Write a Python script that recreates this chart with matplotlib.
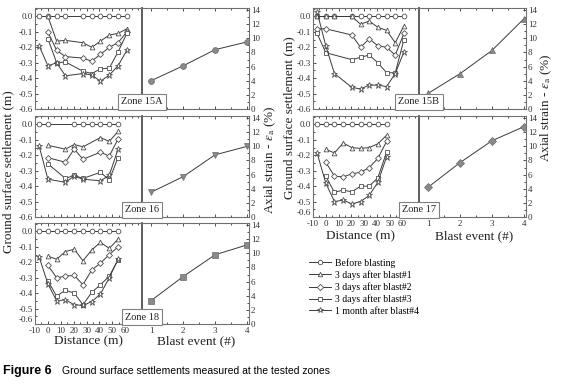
import numpy as np
import matplotlib.pyplot as plt
from matplotlib.lines import Line2D
from matplotlib.ticker import MultipleLocator

plt.rcParams["font.family"] = ["Liberation Serif", "DejaVu Serif"]
plt.rcParams["mathtext.fontset"] = "stix"
plt.rcParams["axes.unicode_minus"] = False

W, H = 564, 385

SERIES_LABELS = [
    "Before blasting",
    "3 days after blast#1",
    "3 days after blast#2",
    "3 days after blast#3",
    "1 month after blast#4",
]
SERIES_MARKERS = ["o", "^", "D", "s", "*"]
BLAST_EVENTS = [1, 2, 3, 4]

# zone 15A (distance in m, settlement in m, None = not measured)
Z15A_X = [-6.8, 0, 6.8, 13.6, 27.2, 34.0, 40.8, 47.6, 54.4, 61.2]
Z15A_BEFORE = [0, 0, 0, 0, 0, 0, 0, 0, 0, 0]
Z15A_B1 = [None, 0.0, -0.16, -0.155, -0.17, -0.20, -0.16, -0.12, -0.11, -0.08]
Z15A_B2 = [None, -0.10, -0.22, -0.26, -0.27, -0.29, -0.245, -0.20, -0.17, -0.10]
Z15A_B3 = [None, -0.145, -0.30, -0.295, -0.355, -0.37, -0.34, -0.335, -0.23, -0.11]
Z15A_B4 = [-0.19, -0.32, -0.30, -0.385, -0.37, -0.38, -0.42, -0.38, -0.32, -0.22]
Z15A_STRAIN = [4.0, 6.1, 8.4, 9.5]

# zone 16
Z16_X = [-6.8, 0, 13.6, 20.4, 27.2, 34.0, 40.8, 47.6, 54.4]
Z16_BEFORE = [0, 0, None, 0, 0, 0, 0, 0, 0]
Z16_B1 = [None, -0.135, -0.16, -0.13, -0.145, None, -0.085, -0.11, -0.045]
Z16_B2 = [None, -0.215, -0.245, -0.16, -0.225, None, -0.18, -0.205, -0.095]
Z16_B3 = [None, -0.255, -0.35, -0.33, -0.35, None, -0.31, -0.36, -0.215]
Z16_B4 = [-0.14, -0.355, -0.375, -0.335, -0.355, None, -0.365, -0.33, -0.16]
Z16_STRAIN = [3.5, 5.7, 8.8, 10.0]

# zone 18
Z18_X = [-6.8, 0, 6.8, 13.6, 20.4, 27.2, 34.0, 40.8, 47.6, 54.4]
Z18_BEFORE = [0, 0, 0, 0, 0, 0, 0, 0, 0, 0]
Z18_B1 = [None, -0.16, -0.18, -0.13, -0.115, -0.19, -0.12, -0.07, -0.11, -0.05]
Z18_B2 = [None, -0.22, -0.30, -0.29, -0.285, -0.345, -0.25, -0.205, -0.15, -0.10]
Z18_B3 = [None, -0.32, -0.42, -0.38, -0.40, -0.475, -0.395, -0.345, -0.29, -0.185]
Z18_B4 = [-0.165, -0.34, -0.45, -0.443, -0.475, -0.48, -0.455, -0.405, -0.30, -0.18]
Z18_STRAIN = [3.3, 6.7, 9.8, 11.2]

# zone 15B
Z15B_X = [-6.8, 0, 6.8, 20.4, 27.2, 34.0, 40.8, 47.6, 54.4, 61.2]
Z15B_BEFORE = [0, 0, 0, 0, 0, 0, 0, 0, 0, 0]
Z15B_B1 = [0.0, 0.0, 0.0, 0.0, -0.05, -0.03, -0.07, -0.09, -0.17, -0.06]
Z15B_B2 = [-0.08, -0.08, None, -0.12, -0.20, -0.145, -0.19, -0.20, -0.25, -0.11]
Z15B_B3 = [-0.11, -0.235, None, -0.28, -0.265, -0.25, -0.30, -0.365, -0.365, -0.15]
Z15B_B4 = [0.03, -0.19, -0.37, -0.46, -0.47, -0.445, -0.445, -0.455, -0.37, -0.23]
Z15B_STRAIN = [2.2, 5.0, 8.3, 12.8]

# zone 17
Z17_X = [-6.8, 0, 6.8, 13.6, 20.4, 27.2, 34.0, 40.8, 47.6]
Z17_BEFORE = [0, 0, 0, 0, 0, 0, 0, 0, 0]
Z17_B1 = [None, -0.16, -0.185, -0.12, -0.15, -0.155, -0.15, -0.125, -0.07]
Z17_B2 = [None, -0.245, -0.335, -0.34, -0.32, -0.31, -0.28, -0.22, -0.11]
Z17_B3 = [None, -0.335, -0.44, -0.425, -0.437, -0.40, -0.40, -0.345, -0.18]
Z17_B4 = [-0.185, -0.38, -0.50, -0.49, -0.515, -0.50, -0.46, -0.375, -0.21]
Z17_STRAIN = [4.2, 7.7, 10.8, 12.8]

LINE = "#3a3a3a"
EDGE = "#505050"
SPINE = "#707070"
FILL = "#8a8a8a"


def box(x0, x1, top, bottom):
    return [x0 / W, 1 - bottom / H, (x1 - x0) / W, (bottom - top) / H]


def style_ticks(ax):
    ax.tick_params(
        which="both",
        direction="in",
        labelsize=6.5,
        colors="#333333",
        pad=1.5,
        width=0.6,
    )
    ax.tick_params(which="major", length=2.5)
    ax.tick_params(which="minor", length=1.5)
    for s in ax.spines.values():
        s.set_color(SPINE)
        s.set_linewidth(0.8)


def draw_zone(fig, cols, rows, x, series, strain, marker, name, show_x):

    x0, xd, x1 = cols
    top, bottom = rows

    ax_d = fig.add_axes(box(x0, xd, top, bottom))
    ax_b = fig.add_axes(box(xd, x1, top, bottom))

    x = np.array(x, dtype=float)

    for ys, mk in zip(series, SERIES_MARKERS):
        ys = np.array(ys, dtype=float)
        ok = ~np.isnan(ys)
        ax_d.plot(
            x[ok],
            ys[ok],
            marker=mk,
            ms=4.6 if mk == "*" else (3.0 if mk == "D" else 3.4),
            mfc="white",
            mec=EDGE,
            mew=0.6,
            color=LINE,
            lw=0.7,
        )

    ax_d.set_xlim(-10, 73)
    ax_d.set_ylim(-0.6, 0.055)
    ax_d.set_xticks([-10, 0, 10, 20, 30, 40, 50, 60])
    ax_d.xaxis.set_minor_locator(MultipleLocator(5))
    ax_d.set_yticks(np.arange(-0.6, 0.01, 0.1))
    ax_d.set_yticklabels(["-0.6", "-0.5", "-0.4", "-0.3", "-0.2", "-0.1", "0.0"])
    ax_d.yaxis.set_minor_locator(MultipleLocator(0.05))
    style_ticks(ax_d)
    ax_d.tick_params(which="both", top=True, right=False, labelbottom=show_x)
    ax_d.tick_params(axis="x", pad=2.5)
    ax_d.spines["right"].set_color("#505050")
    ax_d.spines["right"].set_linewidth(1.3)
    if show_x:
        # lift the lowest settlement label clear of the distance labels
        ax_d.get_yticklabels()[0].set_va("bottom")

    ax_b.plot(
        BLAST_EVENTS,
        strain,
        marker=marker,
        ms=4.2 if marker != "D" else 3.6,
        mfc=FILL,
        mec="#6a6a6a",
        mew=0.5,
        color=LINE,
        lw=0.7,
    )
    ax_b.set_xlim(0.72, 4.06)
    ax_b.set_ylim(0, 14.3)
    ax_b.set_xticks(BLAST_EVENTS)
    ax_b.set_yticks(range(0, 15, 2))
    ax_b.yaxis.set_minor_locator(MultipleLocator(1))
    ax_b.xaxis.set_minor_locator(MultipleLocator(0.5))
    ax_b.yaxis.tick_right()
    style_ticks(ax_b)
    ax_b.tick_params(which="both", top=True, left=False, labelbottom=show_x)
    ax_b.tick_params(axis="x", pad=2.5)
    ax_b.spines["left"].set_visible(False)
    ax_b.patch.set_alpha(0)

    fig.text(
        xd / W,
        1 - (bottom - 7) / H,
        name,
        ha="center",
        va="center",
        fontsize=7.5,
        color="#222222",
        bbox=dict(boxstyle="square,pad=0.3", fc="white", ec="#808080", lw=0.8),
        zorder=10,
    )


fig = plt.figure(figsize=(W / 100, H / 100), dpi=100)

left_cols = (35, 142, 249)
right_cols = (313, 419, 526)

draw_zone(fig, left_cols, (8, 109), Z15A_X,
          [Z15A_BEFORE, Z15A_B1, Z15A_B2, Z15A_B3, Z15A_B4],
          Z15A_STRAIN, "o", "Zone 15A", False)
draw_zone(fig, left_cols, (116, 217), Z16_X,
          [Z16_BEFORE, Z16_B1, Z16_B2, Z16_B3, Z16_B4],
          Z16_STRAIN, "v", "Zone 16", False)
draw_zone(fig, left_cols, (223, 324), Z18_X,
          [Z18_BEFORE, Z18_B1, Z18_B2, Z18_B3, Z18_B4],
          Z18_STRAIN, "s", "Zone 18", True)
draw_zone(fig, right_cols, (8, 109), Z15B_X,
          [Z15B_BEFORE, Z15B_B1, Z15B_B2, Z15B_B3, Z15B_B4],
          Z15B_STRAIN, "^", "Zone 15B", False)
draw_zone(fig, right_cols, (116, 217), Z17_X,
          [Z17_BEFORE, Z17_B1, Z17_B2, Z17_B3, Z17_B4],
          Z17_STRAIN, "D", "Zone 17", True)

label_kw = dict(fontsize=9.5, color="#222222", ha="center", va="center")
strain_label = "Axial strain - $\\varepsilon_{\\mathrm{a}}$ (%)"

fig.text(8 / W, 1 - 172 / H, "Ground surface settlement (m)", rotation=90, **label_kw)
fig.text(270 / W, 1 - 160 / H, strain_label, rotation=90, **label_kw)
fig.text(88 / W, 1 - 341 / H, "Distance (m)", **label_kw)
fig.text(196 / W, 1 - 341 / H, "Blast event (#)", **label_kw)

fig.text(289 / W, 1 - 118 / H, "Ground surface settlement (m)", rotation=90, **label_kw)
fig.text(546 / W, 1 - 108 / H, strain_label, rotation=90, **label_kw)
fig.text(361 / W, 1 - 236 / H, "Distance (m)", **label_kw)
fig.text(474 / W, 1 - 236 / H, "Blast event (#)", **label_kw)

handles = [
    Line2D([], [], marker=mk, ms=3.2 if mk != "*" else 4.2, mfc="white",
           mec=EDGE, mew=0.6, color=LINE, lw=0.7)
    for mk in SERIES_MARKERS
]
fig.legend(
    handles,
    SERIES_LABELS,
    loc="upper left",
    bbox_to_anchor=(309 / W, 1 - 258 / H),
    frameon=False,
    fontsize=7,
    handlelength=2.3,
    handletextpad=0.4,
    labelspacing=0.25,
    borderpad=0,
    borderaxespad=0,
)

fig.text(3 / W, 1 - 371 / H, "Figure 6", fontsize=9, fontweight="bold",
         family=["Liberation Sans", "DejaVu Sans"], va="center")
fig.text(62 / W, 1 - 371 / H, "Ground surface settlements measured at the tested zones",
         fontsize=7.5, family=["Liberation Sans", "DejaVu Sans"], va="center")

fig.savefig("out.png", dpi=100)
